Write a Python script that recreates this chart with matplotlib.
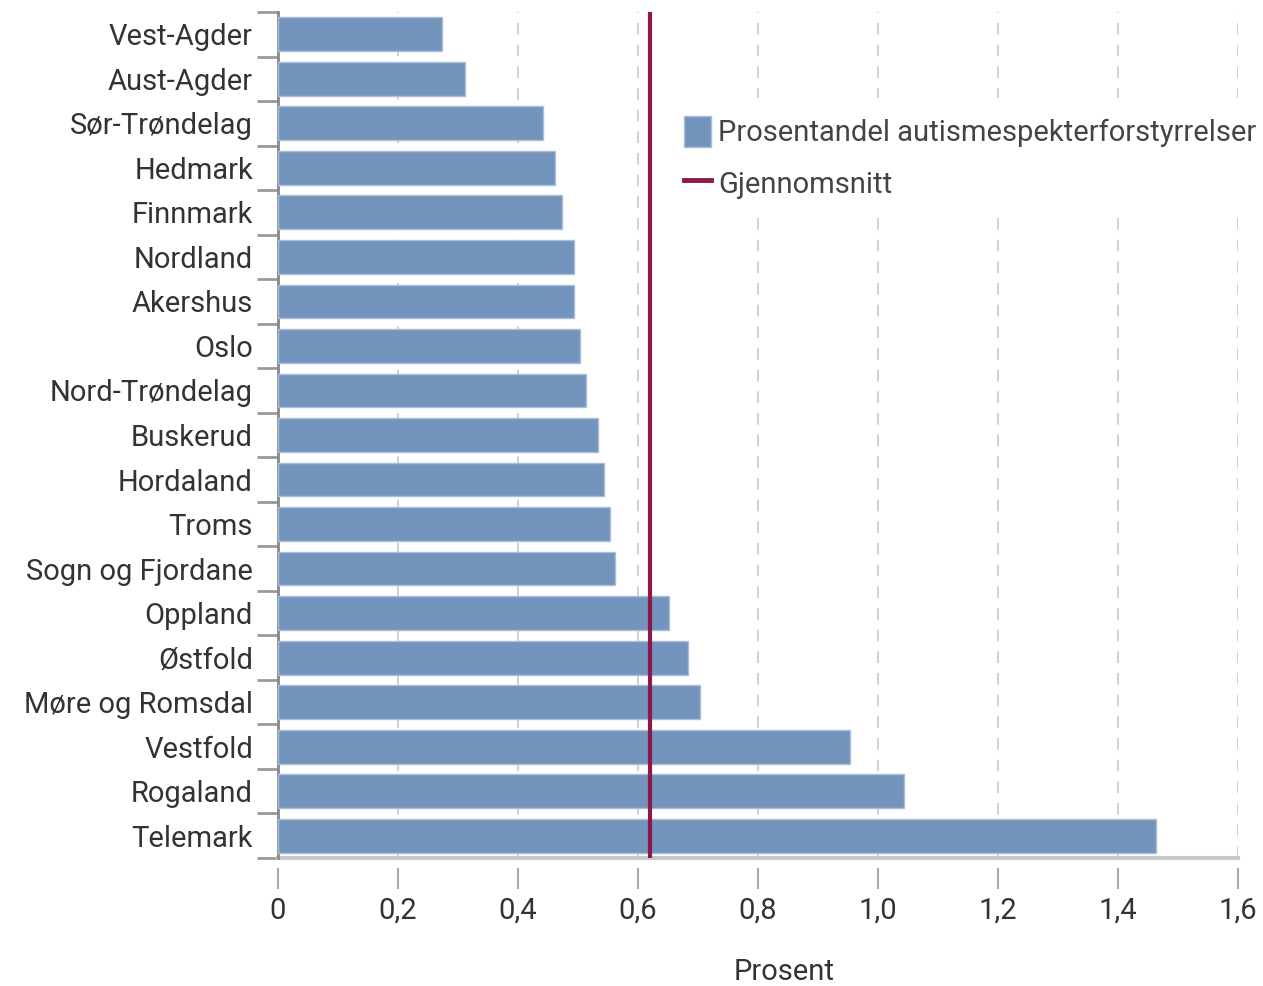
import matplotlib.pyplot as plt
from matplotlib.patches import Patch
from matplotlib.lines import Line2D
import numpy as np

fylker = ["Vest-Agder", "Aust-Agder", "Sør-Trøndelag", "Hedmark", "Finnmark",
          "Nordland", "Akershus", "Oslo", "Nord-Trøndelag", "Buskerud",
          "Hordaland", "Troms", "Sogn og Fjordane", "Oppland", "Østfold",
          "Møre og Romsdal", "Vestfold", "Rogaland", "Telemark"]
prosent = [0.273, 0.312, 0.442, 0.462, 0.473, 0.493, 0.493, 0.503, 0.513,
           0.533, 0.543, 0.553, 0.562, 0.652, 0.683, 0.703, 0.953, 1.043, 1.463]
gjennomsnitt = 0.62
xticks = [0, 0.2, 0.4, 0.6, 0.8, 1.0, 1.2, 1.4, 1.6]
xticklabels = ["0", "0,2", "0,4", "0,6", "0,8", "1,0", "1,2", "1,4", "1,6"]

plt.rcParams['font.family'] = ['Roboto', 'DejaVu Sans']
tekst = "#333333"
bar_col = "#7394bc"
snitt_col = "#8b1a4a"

fig = plt.figure(figsize=(12.63, 9.86), dpi=100)
ax = fig.add_axes([278 / 1263, 1 - 858 / 986, 960 / 1263, 846 / 986])

y = np.arange(len(fylker))
ax.barh(y, prosent, height=0.76, color=bar_col, edgecolor="#a9bfdb",
        linewidth=1, zorder=3)
ax.axvline(gjennomsnitt, color=snitt_col, lw=3, zorder=4)

ax.set_ylim(len(fylker) - 0.5, -0.5)
ax.set_xlim(0, 1.6)

# grid
for xv in xticks[1:]:
    ax.axvline(xv, color="#c8c8c8", lw=1.2, ls=(0, (7, 6)), zorder=1)

for s in ["top", "right"]:
    ax.spines[s].set_visible(False)
ax.spines["bottom"].set_position(("outward", 7))
ax.spines["bottom"].set_visible(False)
ax.spines["left"].set_color("#888888")
ax.spines["left"].set_linewidth(2)
ax.axhline(len(fylker) - 0.5, color="#c8c8c8", lw=3, zorder=2, clip_on=False)

ax.set_yticks(y)
ax.set_yticklabels(fylker, fontsize=21, color=tekst)
ax.set_yticks(np.arange(len(fylker) + 1) - 0.5, minor=True)
ax.tick_params(axis="y", which="major", length=0, pad=18)
ax.tick_params(axis="y", which="minor", length=15, width=2, color="#999999")

ax.set_xticks(xticks)
ax.set_xticklabels(xticklabels)
ax.tick_params(axis="x", length=15, width=1.5, color="#aaaaaa", pad=6,
               labelsize=21, labelcolor=tekst)
ax.set_xlabel("Prosent", fontsize=21, color=tekst)
ax.xaxis.set_label_coords(0.527, -0.118)

handles = [Patch(facecolor=bar_col, edgecolor="#a9bfdb"),
           Line2D([0], [0], color=snitt_col, lw=3.5)]
leg = ax.legend(handles, ["Prosentandel autismespekterforstyrrelser", "Gjennomsnitt"],
                loc="upper left", bbox_to_anchor=(0.39, 0.915), fontsize=21,
                frameon=True, facecolor="white", edgecolor="none", framealpha=1,
                handlelength=0.9, handleheight=1.25, handletextpad=0.25,
                labelspacing=0.7, borderpad=0.6, fancybox=False)
for t in leg.get_texts():
    t.set_color("#444444")
leg.set_zorder(5)

fig.savefig("out.png", dpi=100)
